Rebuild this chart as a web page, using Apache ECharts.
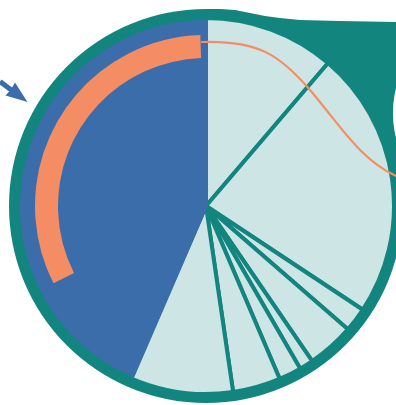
<!DOCTYPE html>
<html><head><meta charset="utf-8">
<script src="https://cdn.jsdelivr.net/npm/echarts@6/dist/echarts.min.js"></script>
<style>html,body{margin:0;padding:0;background:#fff}#c{width:396px;height:405px}</style>
</head><body><div id="c"></div>
<script>
// Slice sizes (degrees), clockwise from 12 o'clock; last one is the highlighted share
const sliceNames = ['S1','S2','S3','S4','S5','S6','S7','S8','Main'];
const sliceValues = [40.5, 83.0, 7.5, 14.6, 4.3, 7.0, 14.8, 31.7, 156.6];
const mainIndex = 8;
// Orange arc inside the main slice: [gap before, arc, gap after] in degrees
const arcNames = ['before','arc','after'];
const arcValues = [243.1, 115.0, 1.9];

const TEAL = '#12857f', LIGHT = '#cde5e4', BLUE = '#3c6dab', ORANGE = '#f48d64';
const C = [206, 206];
const T = 'rgba(0,0,0,0)';

const lightData = sliceValues.map((v, i) => i === mainIndex
  ? { name: sliceNames[i], value: v, itemStyle: { color: T, borderWidth: 0 } }
  : { name: sliceNames[i], value: v, itemStyle: { color: LIGHT, borderColor: TEAL, borderWidth: 4 } });
const otherSum = sliceValues.reduce((a, b, i) => i === mainIndex ? a : a + b, 0);
const blueData = [
  { name: 'others', value: otherSum, itemStyle: { color: T, borderWidth: 0 } },
  { name: sliceNames[mainIndex], value: sliceValues[mainIndex], itemStyle: { color: BLUE, borderColor: BLUE, borderWidth: 4 } }
];
const arcData = arcValues.map((v, i) => ({ name: arcNames[i], value: v,
  itemStyle: { color: i === 1 ? ORANGE : T, borderWidth: 0 } }));

const common = { type: 'pie', center: C, startAngle: 90, clockwise: true, silent: true,
  label: { show: false }, labelLine: { show: false }, animation: false, avoidLabelOverlap: false };

const blobPts = [[206,9],[220,9],[235,10],[250,13],[265,16],[280,18],[300,20],[340,21],[396,22],
  [396,88],[394.5,95],[393.3,104],[393,113],[393.3,122],[394.5,131],[396,138],[396,230],[206,206]];

const chart = echarts.init(document.getElementById('c'), null, { renderer: 'canvas' });
chart.setOption({
  backgroundColor: '#ffffff',
  animation: false,
  graphic: [
    { type: 'polygon', z: 0, silent: true, shape: { points: blobPts }, style: { fill: TEAL } },
    { type: 'line', z: 20, silent: true, shape: { x1: 0, y1: 81.5, x2: 14, y2: 92 }, style: { stroke: BLUE, lineWidth: 5 } },
    { type: 'polygon', z: 20, silent: true, shape: { points: [[15, 82.5], [27.5, 102], [5.5, 95.5], [11, 89.5]] }, style: { fill: BLUE } },
    { type: 'bezierCurve', z: 20, silent: true, shape: { x1: 201, y1: 42, cpx1: 258, cpy1: 40, cpx2: 280, cpy2: 55, x2: 310, y2: 90 },
      style: { fill: null, stroke: ORANGE, lineWidth: 2.2 } },
    { type: 'bezierCurve', z: 20, silent: true, shape: { x1: 310, y1: 90, cpx1: 340, cpy1: 125, cpx2: 360, cpy2: 160, x2: 398, y2: 177 },
      style: { fill: null, stroke: ORANGE, lineWidth: 2.2 } }
  ],
  series: [
    Object.assign({}, common, { z: 1, radius: [0, 197], data: [{ name: 'ring', value: 1, itemStyle: { color: TEAL } }] }),
    Object.assign({}, common, { z: 2, radius: [0, 188], data: lightData }),
    Object.assign({}, common, { z: 3, radius: [0, 184], data: blueData }),
    Object.assign({}, common, { z: 4, radius: [148, 171], data: arcData })
  ]
});
</script></body></html>
